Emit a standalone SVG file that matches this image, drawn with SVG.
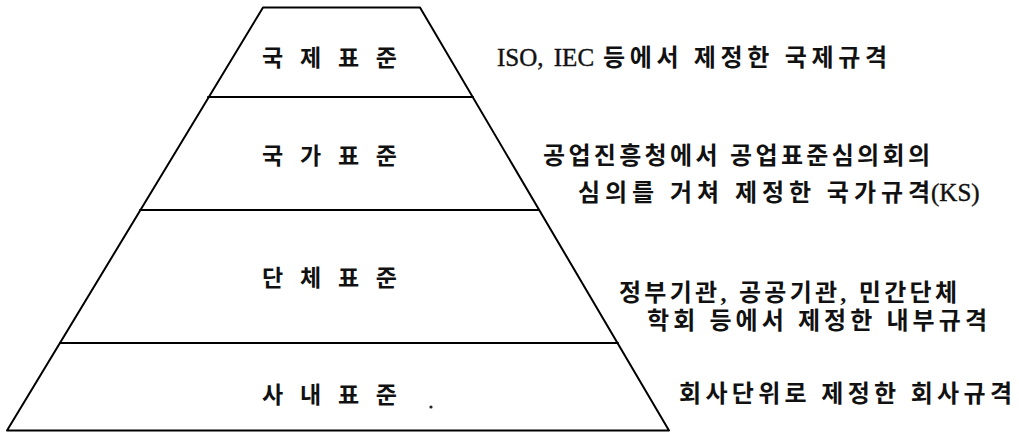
<svg xmlns="http://www.w3.org/2000/svg" width="1019" height="434" viewBox="0 0 1019 434">
<style>
.ln{stroke:#000;stroke-width:2;fill:none;stroke-linecap:round;stroke-linejoin:round}
.lbl{font-family:"Noto Sans CJK KR",sans-serif;font-size:23px;font-weight:700;fill:#111}
.desc{font-family:"Liberation Serif","Noto Sans CJK KR",serif;font-size:24px;font-weight:700;fill:#111}
.lat{font-family:"Liberation Serif",serif;font-size:25px;font-weight:400;fill:#111;stroke:#111;stroke-width:0.4}
</style>
<rect width="1019" height="434" fill="#fff"/>
<g id="connectors">
<path class="ln" d="M263,7.5 L420,7.5 L669,430.5 L7,430.5 Z"/>
<line class="ln" x1="208" y1="97" x2="473" y2="97"/>
<line class="ln" x1="140" y1="210" x2="539" y2="210"/>
<line class="ln" x1="60" y1="343" x2="618" y2="343"/>
</g>
<g id="level1">
<text class="lbl" x="262" y="66" textLength="135" lengthAdjust="spacing">국 제 표 준</text>
<text class="lat" x="497" y="66" word-spacing="4">ISO, IEC</text>
<text class="desc" x="603" y="66" textLength="284" lengthAdjust="spacing">등에서 제정한 국제규격</text>
</g>
<g id="level2">
<text class="lbl" x="262" y="164" textLength="135" lengthAdjust="spacing">국 가 표 준</text>
<text class="desc" x="543" y="164" textLength="387" lengthAdjust="spacing">공업진흥청에서 공업표준심의회의</text>
<text class="desc" x="578" y="201" textLength="352" lengthAdjust="spacing">심의를 거쳐 제정한 국가규격</text>
<text class="lat" x="931" y="201">(KS)</text>
</g>
<g id="level3">
<text class="lbl" x="262" y="286" textLength="135" lengthAdjust="spacing">단 체 표 준</text>
<text class="desc" x="619" y="301" textLength="338" lengthAdjust="spacing">정부기관, 공공기관, 민간단체</text>
<text class="desc" x="647" y="329" textLength="340" lengthAdjust="spacing">학회 등에서 제정한 내부규격</text>
</g>
<g id="level4">
<text class="lbl" x="262" y="403" textLength="135" lengthAdjust="spacing">사 내 표 준</text>
<text class="desc" x="679" y="402" textLength="333" lengthAdjust="spacing">회사단위로 제정한 회사규격</text>
</g>
<circle cx="431" cy="407" r="1.6" fill="#222"/>
</svg>
